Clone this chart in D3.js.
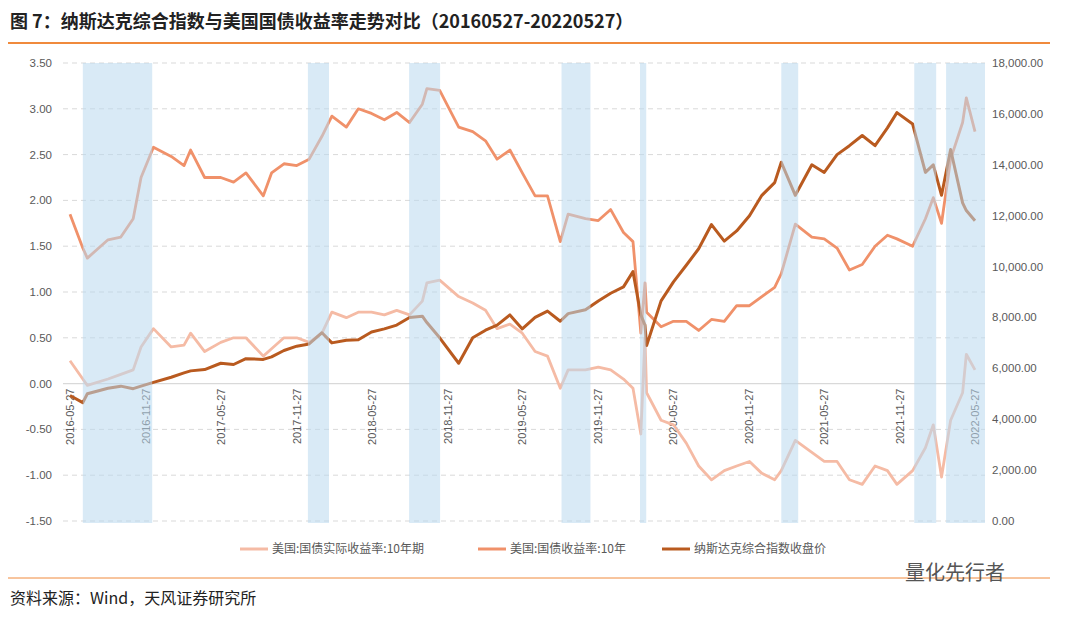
<!DOCTYPE html>
<html>
<head>
<meta charset="utf-8">
<script src="https://cdn.jsdelivr.net/npm/d3@7"></script>
<style>
body { margin:0; background:#fff; font-family:"Noto Sans CJK SC","Noto Sans",sans-serif; }
</style>
</head>
<body>
<svg width="1080" height="619"></svg>
<script>
// data (irregular dates)
const dates = ["2016-05-27","2016-06-27","2016-07-08","2016-08-27","2016-09-27","2016-10-27","2016-11-15","2016-12-15",
"2017-01-27","2017-02-27","2017-03-15","2017-04-18","2017-05-27","2017-06-27","2017-07-27","2017-09-07","2017-09-27","2017-10-27","2017-11-27","2017-12-27",
"2018-01-27","2018-02-20","2018-03-27","2018-04-25","2018-05-27","2018-06-27","2018-07-27","2018-08-27","2018-09-27","2018-10-08","2018-11-08","2018-12-24",
"2019-01-27","2019-02-27","2019-03-27","2019-04-27","2019-05-27","2019-06-27","2019-07-27","2019-08-27","2019-09-15","2019-10-27","2019-11-27","2019-12-27",
"2020-01-27","2020-02-19","2020-03-09","2020-03-19","2020-03-23","2020-04-27","2020-05-27","2020-06-27","2020-07-27","2020-08-27","2020-09-27","2020-10-27","2020-11-27","2020-12-27",
"2021-01-27","2021-02-12","2021-03-18","2021-04-27","2021-05-27","2021-06-27","2021-07-27","2021-08-27","2021-09-27","2021-10-27","2021-11-19","2021-12-27",
"2022-01-27","2022-02-15","2022-03-07","2022-03-29","2022-04-27","2022-05-06","2022-05-27"];

const nominal = [1.85,1.48,1.37,1.57,1.60,1.80,2.25,2.58,
2.48,2.38,2.55,2.25,2.25,2.20,2.30,2.05,2.30,2.40,2.38,2.45,
2.70,2.92,2.80,3.00,2.95,2.88,2.96,2.85,3.05,3.22,3.20,2.80,
2.75,2.65,2.45,2.55,2.30,2.05,2.05,1.55,1.85,1.80,1.78,1.90,
1.65,1.55,0.55,1.10,0.78,0.62,0.68,0.68,0.58,0.70,0.68,0.85,0.85,0.95,
1.05,1.20,1.74,1.60,1.58,1.48,1.24,1.30,1.50,1.62,1.58,1.50,
1.80,2.03,1.75,2.45,2.85,3.12,2.75];

const realYield = [0.25,0.05,-0.02,0.05,0.10,0.15,0.40,0.60,
0.40,0.42,0.55,0.35,0.45,0.50,0.50,0.30,0.38,0.50,0.50,0.45,
0.55,0.78,0.72,0.78,0.78,0.75,0.80,0.75,0.90,1.10,1.13,0.95,
0.88,0.80,0.60,0.65,0.55,0.35,0.30,-0.05,0.15,0.15,0.18,0.15,
0.05,-0.05,-0.55,0.50,-0.10,-0.40,-0.45,-0.65,-0.90,-1.05,-0.95,-0.90,-0.85,-0.98,
-1.05,-0.95,-0.62,-0.75,-0.85,-0.85,-1.05,-1.10,-0.90,-0.95,-1.10,-0.95,
-0.70,-0.45,-1.02,-0.40,-0.10,0.32,0.15];

const nasdaq = [4930,4650,5000,5220,5300,5200,5300,5450,
5650,5820,5900,5950,6200,6150,6380,6350,6450,6700,6870,6960,
7400,7000,7100,7120,7430,7550,7700,8000,8050,7800,7200,6200,
7200,7500,7700,8100,7550,8000,8250,7850,8150,8300,8650,8950,
9200,9800,8100,7700,6900,8650,9400,10050,10700,11650,11000,11400,12000,12800,
13300,14100,12800,14000,13700,14400,14750,15150,14750,15450,16050,15600,
13700,14000,12800,14600,12500,12200,11800];

const bandStart = ["2016-06-27","2017-12-24","2018-08-26","2019-08-30","2020-03-07","2021-02-12","2021-12-31","2022-03-18"];
const bandEnd   = ["2016-12-12","2018-02-13","2018-11-09","2019-11-08","2020-03-22","2021-03-25","2022-02-22","2022-06-22"];

const xTicks = ["2016-05-27","2016-11-27","2017-05-27","2017-11-27","2018-05-27","2018-11-27","2019-05-27","2019-11-27","2020-05-27","2020-11-27","2021-05-27","2021-11-27","2022-05-27"];
const leftTicks = [3.5,3.0,2.5,2.0,1.5,1.0,0.5,0.0,-0.5,-1.0,-1.5];
const rightTicks = [18000,16000,14000,12000,10000,8000,6000,4000,2000,0];

const seriesNames = ["美国:国债实际收益率:10年期","美国:国债收益率:10年","纳斯达克综合指数收盘价"];
const seriesColors = ["#f5bba5","#f0916a","#b95a1f"];

const parse = d3.timeParse("%Y-%m-%d");
const svg = d3.select("svg");

const plotL = 63, plotR = 985, plotT = 63, plotB = 521;
const x = d3.scaleTime().domain([parse("2016-05-27"), parse("2022-05-27")]).range([70, 975]);
const yL = d3.scaleLinear().domain([-1.5, 3.5]).range([plotB, plotT]);
const yR = d3.scaleLinear().domain([0, 18000]).range([plotB, plotT]);

// title
svg.append("text").attr("x", 10).attr("y", 28).attr("font-size", 18).attr("font-weight", "bold").attr("fill", "#222")
	.text("图 7：纳斯达克综合指数与美国国债收益率走势对比（20160527-20220527）");
svg.append("line").attr("x1", 8).attr("x2", 1050).attr("y1", 43).attr("y2", 43).attr("stroke", "#f08a3c").attr("stroke-width", 2);

// grid
svg.append("g").selectAll("line").data(leftTicks.filter(d => d != 0)).join("line")
	.attr("x1", plotL).attr("x2", plotR).attr("y1", d => yL(d)).attr("y2", d => yL(d))
	.attr("stroke", "#d9d9d9").attr("stroke-dasharray", "5,4");
svg.append("line").attr("x1", plotL).attr("x2", plotR).attr("y1", yL(0)).attr("y2", yL(0)).attr("stroke", "#d9d9d9").attr("stroke-width", 1.2);

// axis labels
svg.append("g").selectAll("text").data(leftTicks).join("text")
	.attr("x", 52).attr("y", d => yL(d) + 4).attr("text-anchor", "end")
	.attr("font-size", 11.5).attr("fill", "#595959").attr("font-family", "Liberation Sans, sans-serif")
	.text(d => d.toFixed(2));
svg.append("g").selectAll("text").data(rightTicks).join("text")
	.attr("x", 992).attr("y", d => yR(d) + 4)
	.attr("font-size", 11.5).attr("fill", "#595959").attr("font-family", "Liberation Sans, sans-serif")
	.text(d => d3.format(",.2f")(d));

// x tick labels (rotated)
svg.append("g").selectAll("text").data(xTicks).join("text")
	.attr("transform", d => `translate(${x(parse(d)) + 4},${yL(0) + 5}) rotate(-90)`)
	.attr("text-anchor", "end").attr("font-size", 11).attr("fill", "#595959")
	.attr("font-family", "Liberation Sans, sans-serif")
	.text(d => d);

const pts = dates.map(parse);

const lineL = d3.line().x((d, i) => x(pts[i])).y(d => yL(d));
const lineR = d3.line().x((d, i) => x(pts[i])).y(d => yR(d));

svg.append("path").attr("d", lineL(realYield)).attr("fill", "none").attr("stroke", seriesColors[0]).attr("stroke-width", 2.8).attr("stroke-linejoin", "round");
svg.append("path").attr("d", lineL(nominal)).attr("fill", "none").attr("stroke", seriesColors[1]).attr("stroke-width", 2.8).attr("stroke-linejoin", "round");
svg.append("path").attr("d", lineR(nasdaq)).attr("fill", "none").attr("stroke", seriesColors[2]).attr("stroke-width", 3).attr("stroke-linejoin", "round");

// shaded periods on top, semi transparent
svg.append("g").selectAll("rect").data(bandStart).join("rect")
	.attr("x", d => x(parse(d)))
	.attr("width", (d, i) => Math.min(x(parse(bandEnd[i])), plotR) - x(parse(d)))
	.attr("y", plotT).attr("height", plotB - plotT + 2)
	.attr("fill", "#b9d9ef").attr("opacity", 0.55);

// legend
const legX = [240, 478, 662];
seriesNames.forEach((n, i) => {
	svg.append("line").attr("x1", legX[i]).attr("x2", legX[i] + 28).attr("y1", 549).attr("y2", 549)
		.attr("stroke", seriesColors[i]).attr("stroke-width", 3);
	svg.append("text").attr("x", legX[i] + 32).attr("y", 553).attr("font-size", 12).attr("fill", "#595959").text(n);
});

// footer
svg.append("line").attr("x1", 8).attr("x2", 1050).attr("y1", 578).attr("y2", 578).attr("stroke", "#f08a3c").attr("stroke-width", 1);
svg.append("text").attr("x", 10).attr("y", 604).attr("font-size", 16).attr("fill", "#222").text("资料来源：Wind，天风证券研究所");
svg.append("text").attr("x", 905).attr("y", 580).attr("font-size", 20).attr("fill", "#555").text("量化先行者");
</script>
</body>
</html>
